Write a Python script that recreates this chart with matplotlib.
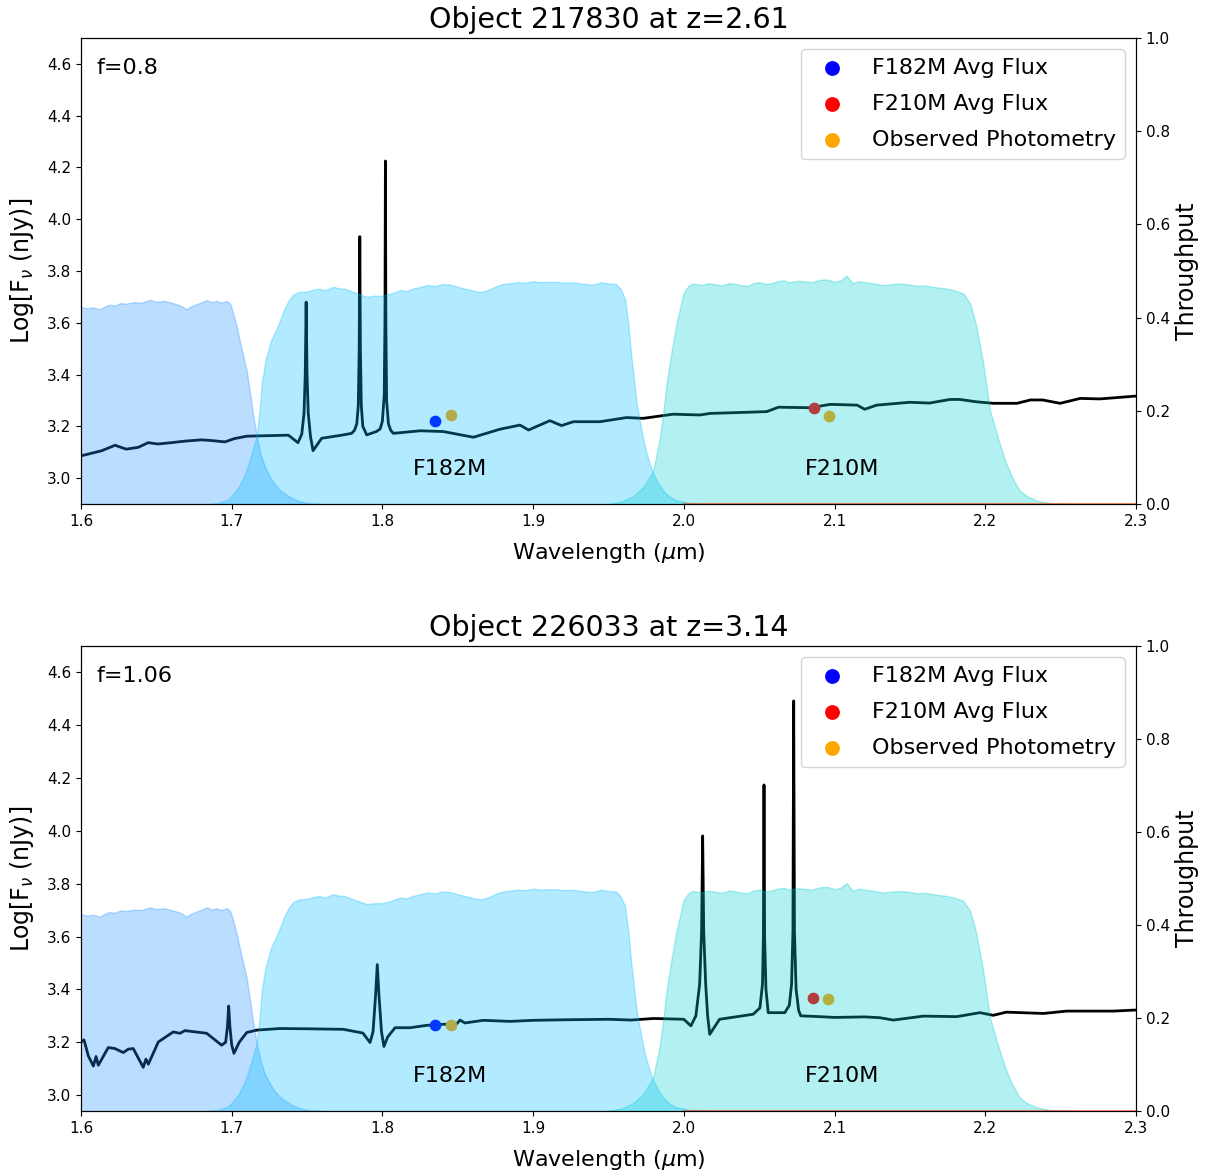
import matplotlib
matplotlib.use("Agg")
import matplotlib.pyplot as plt
from matplotlib.ticker import MultipleLocator, FormatStrFormatter

# =============================================================================
#  Data
# =============================================================================

# filter throughput curves (shared by both panels)
f162_wave = [1.55, 1.600, 1.604, 1.608, 1.6126, 1.616, 1.619, 1.6226, 1.6259, 1.630,
             1.635, 1.640, 1.6458, 1.650, 1.655, 1.659, 1.662, 1.666, 1.670, 1.673,
             1.676, 1.680, 1.6834, 1.687, 1.690, 1.693, 1.6967, 1.699, 1.701, 1.703,
             1.705, 1.7075, 1.710, 1.7125, 1.7145, 1.7166, 1.719, 1.722, 1.7255, 1.7287,
             1.733, 1.7398, 1.745, 1.751, 1.760]
f162_tput = [0.42, 0.423, 0.420, 0.422, 0.418, 0.424, 0.428, 0.426, 0.431, 0.430,
             0.433, 0.432, 0.438, 0.434, 0.436, 0.433, 0.430, 0.426, 0.418, 0.424,
             0.428, 0.433, 0.438, 0.433, 0.436, 0.432, 0.436, 0.430, 0.409, 0.385,
             0.355, 0.32, 0.285, 0.23, 0.185, 0.146, 0.11, 0.08, 0.058, 0.042,
             0.027, 0.013, 0.006, 0.002, 0.0]

f182_wave = [1.685, 1.691, 1.698, 1.7044, 1.709, 1.713, 1.7166, 1.7185, 1.720, 1.7225,
             1.726, 1.731, 1.7345, 1.7375, 1.7409, 1.745, 1.750, 1.754, 1.758, 1.762,
             1.7674, 1.771, 1.775, 1.780, 1.785, 1.7896, 1.795, 1.800, 1.806, 1.8117,
             1.816, 1.820, 1.825, 1.830, 1.835, 1.840, 1.845, 1.850, 1.855, 1.860,
             1.865, 1.869, 1.872, 1.876, 1.880, 1.885, 1.890, 1.895, 1.900, 1.905,
             1.910, 1.915, 1.920, 1.925, 1.930, 1.935, 1.940, 1.945, 1.950, 1.955,
             1.958, 1.961, 1.963, 1.9654, 1.9687, 1.9715, 1.974, 1.977, 1.9797, 1.983,
             1.986, 1.990, 1.995, 2.004, 2.015]
f182_tput = [0.0, 0.002, 0.010, 0.035, 0.065, 0.105, 0.146, 0.20, 0.26, 0.31,
             0.35, 0.385, 0.415, 0.435, 0.450, 0.455, 0.456, 0.460, 0.462, 0.459,
             0.466, 0.463, 0.462, 0.456, 0.450, 0.445, 0.447, 0.447, 0.452, 0.459,
             0.457, 0.462, 0.466, 0.470, 0.468, 0.472, 0.471, 0.466, 0.462, 0.458,
             0.455, 0.458, 0.462, 0.468, 0.472, 0.474, 0.476, 0.475, 0.478, 0.476,
             0.477, 0.477, 0.475, 0.476, 0.474, 0.472, 0.471, 0.476, 0.473, 0.472,
             0.462, 0.44, 0.39, 0.31, 0.216, 0.165, 0.125, 0.09, 0.066, 0.045,
             0.03, 0.017, 0.008, 0.002, 0.0]

f210_wave = [1.95, 1.958, 1.966, 1.973, 1.9797, 1.984, 1.9865, 1.9886, 1.992, 1.995,
             1.9975, 1.9997, 2.003, 2.006, 2.012, 2.016, 2.02, 2.025, 2.030, 2.033,
             2.038, 2.042, 2.046, 2.05, 2.054, 2.058, 2.062, 2.066, 2.070, 2.075,
             2.08, 2.085, 2.090, 2.095, 2.100, 2.104, 2.108, 2.112, 2.116, 2.12,
             2.125, 2.132, 2.138, 2.143, 2.150, 2.155, 2.160, 2.1655, 2.170, 2.175,
             2.180, 2.1855, 2.19, 2.1935, 2.1965, 2.1987, 2.2032, 2.2086, 2.213, 2.2175,
             2.2225, 2.2275, 2.235, 2.243, 2.26]
f210_tput = [0.0, 0.005, 0.016, 0.036, 0.072, 0.14, 0.20, 0.26, 0.33, 0.385,
             0.42, 0.452, 0.468, 0.473, 0.470, 0.474, 0.472, 0.469, 0.474, 0.473,
             0.470, 0.468, 0.474, 0.476, 0.472, 0.474, 0.478, 0.48, 0.476, 0.479,
             0.478, 0.476, 0.481, 0.482, 0.477, 0.480, 0.49, 0.474, 0.478, 0.476,
             0.474, 0.470, 0.472, 0.473, 0.471, 0.468, 0.469, 0.466, 0.464, 0.462,
             0.458, 0.452, 0.43, 0.39, 0.34, 0.30, 0.20, 0.14, 0.095, 0.06,
             0.03, 0.017, 0.007, 0.002, 0.0]

f250_wave = [2.0, 2.3]
f250_tput = [0.0, 0.0]

# panel 1: object 217830
top_wave = [1.600, 1.6138, 1.6226, 1.630, 1.638, 1.6446, 1.651, 1.660, 1.669, 1.680,
            1.687, 1.6955, 1.702, 1.710, 1.7165, 1.7376, 1.744, 1.7465, 1.748, 1.7488,
            1.7494, 1.750, 1.7508, 1.7523, 1.754, 1.7597, 1.773, 1.7796, 1.7815, 1.783,
            1.784, 1.7846, 1.785, 1.7854, 1.786, 1.787, 1.7896, 1.796, 1.7985, 1.800,
            1.8012, 1.8017, 1.802, 1.8023, 1.8028, 1.804, 1.8055, 1.8073, 1.825, 1.8404,
            1.8604, 1.878, 1.8913, 1.897, 1.9111, 1.9189, 1.9267, 1.9444, 1.962, 1.973,
            1.993, 2.0107, 2.0174, 2.0395, 2.055, 2.0628, 2.084, 2.0972, 2.115, 2.120,
            2.128, 2.150, 2.163, 2.1766, 2.183, 2.194, 2.2053, 2.221, 2.23, 2.238,
            2.2497, 2.263, 2.276, 2.300]
top_flux = [3.086, 3.106, 3.127, 3.112, 3.119, 3.137, 3.132, 3.137, 3.143, 3.148,
            3.145, 3.140, 3.153, 3.162, 3.163, 3.166, 3.137, 3.17, 3.25, 3.40,
            3.68, 3.40, 3.25, 3.16, 3.106, 3.154, 3.166, 3.173, 3.185, 3.21,
            3.28, 3.50, 3.933, 3.50, 3.28, 3.20, 3.167, 3.18, 3.19, 3.22,
            3.32, 3.60, 4.225, 3.60, 3.30, 3.21, 3.185, 3.173, 3.183, 3.180,
            3.158, 3.189, 3.205, 3.186, 3.222, 3.203, 3.218, 3.218, 3.234, 3.231,
            3.247, 3.244, 3.250, 3.254, 3.257, 3.274, 3.272, 3.285, 3.282, 3.266,
            3.282, 3.293, 3.290, 3.304, 3.304, 3.295, 3.289, 3.289, 3.302, 3.302,
            3.289, 3.308, 3.306, 3.317]
top_f182_avg = (1.835, 3.221)
top_f210_avg = (2.0864, 3.271)
top_obs_wave = [1.8455, 2.0963]
top_obs_flux = [3.244, 3.240]

# panel 2: object 226033
bot_wave = [1.600, 1.602, 1.6049, 1.6082, 1.610, 1.6115, 1.6181, 1.6226, 1.6281, 1.6314,
            1.6347, 1.6413, 1.6431, 1.6447, 1.6513, 1.6612, 1.6657, 1.669, 1.6834, 1.6933,
            1.696, 1.6972, 1.698, 1.6988, 1.700, 1.7015, 1.705, 1.710, 1.7166, 1.732,
            1.750, 1.774, 1.787, 1.7918, 1.7938, 1.7955, 1.7966, 1.7977, 1.7994, 1.801,
            1.8035, 1.8084, 1.8183, 1.8294, 1.840, 1.849, 1.8515, 1.8548, 1.867, 1.8847,
            1.900, 1.920, 1.950, 1.965, 1.980, 2.000, 2.0047, 2.008, 2.0105, 2.0118,
            2.0125, 2.0132, 2.0145, 2.0158, 2.0172, 2.0237, 2.046, 2.0505, 2.0522, 2.0528,
            2.0532, 2.0536, 2.0545, 2.056, 2.067, 2.070, 2.0715, 2.0724, 2.0729, 2.0734,
            2.0745, 2.0762, 2.0776, 2.090, 2.100, 2.120, 2.130, 2.139, 2.159, 2.181,
            2.1965, 2.2053, 2.214, 2.2387, 2.254, 2.285, 2.300]
bot_flux = [3.201, 3.209, 3.148, 3.110, 3.146, 3.113, 3.180, 3.176, 3.161, 3.174,
            3.176, 3.105, 3.136, 3.117, 3.201, 3.239, 3.234, 3.244, 3.234, 3.189,
            3.20, 3.26, 3.337, 3.26, 3.19, 3.158, 3.20, 3.237, 3.246, 3.252,
            3.251, 3.249, 3.235, 3.199, 3.24, 3.38, 3.494, 3.38, 3.24, 3.184,
            3.22, 3.255, 3.255, 3.264, 3.268, 3.268, 3.284, 3.273, 3.283, 3.279,
            3.283, 3.285, 3.287, 3.284, 3.290, 3.287, 3.262, 3.30, 3.42, 3.62,
            3.981, 3.62, 3.42, 3.30, 3.23, 3.287, 3.306, 3.33, 3.42, 3.60,
            4.174, 3.60, 3.40, 3.312, 3.312, 3.34, 3.42, 3.62, 4.492, 3.62,
            3.40, 3.32, 3.300, 3.297, 3.294, 3.296, 3.293, 3.284, 3.299, 3.297,
            3.312, 3.302, 3.314, 3.309, 3.318, 3.318, 3.322]
bot_f182_avg = (1.835, 3.264)
bot_f210_avg = (2.086, 3.369)
bot_obs_wave = [1.8453, 2.0955]
bot_obs_flux = [3.264, 3.365]

panels = [
    dict(title="Object 217830 at z=2.61", f="f=0.8", wave=top_wave, flux=top_flux,
         f182=top_f182_avg, f210=top_f210_avg, obs_w=top_obs_wave, obs_f=top_obs_flux,
         ylim=(2.9, 4.7), rect=[0.0672, 0.5703, 0.8755, 0.3973]),
    dict(title="Object 226033 at z=3.14", f="f=1.06", wave=bot_wave, flux=bot_flux,
         f182=bot_f182_avg, f210=bot_f210_avg, obs_w=bot_obs_wave, obs_f=bot_obs_flux,
         ylim=(2.94, 4.7), rect=[0.0672, 0.0529, 0.8755, 0.3964]),
]

filters = [
    (f162_wave, f162_tput, "dodgerblue"),
    (f182_wave, f182_tput, "deepskyblue"),
    (f210_wave, f210_tput, "darkturquoise"),
]

# =============================================================================
#  Plot
# =============================================================================
plt.rcParams["font.size"] = 11

fig = plt.figure(figsize=(12.05, 11.73), dpi=100)

for p in panels:
    ax = fig.add_axes(p["rect"])
    ax.plot(p["wave"], p["flux"], color="k", linewidth=2)
    ax.scatter([p["f182"][0]], [p["f182"][1]], color="blue", s=55, zorder=3,
               label="F182M Avg Flux")
    ax.scatter([p["f210"][0]], [p["f210"][1]], color="red", s=55, zorder=3,
               label="F210M Avg Flux")
    ax.scatter(p["obs_w"], p["obs_f"], color="orange", s=55, zorder=3,
               label="Observed Photometry")
    ax.set_xlim(1.6, 2.3)
    ax.set_ylim(*p["ylim"])
    ax.yaxis.set_major_locator(MultipleLocator(0.2))
    ax.yaxis.set_major_formatter(FormatStrFormatter("%.1f"))
    ax.set_xlabel(r"Wavelength ($\mu$m)", fontsize=16, labelpad=9)
    ax.set_ylabel(r"Log[F$_\nu$ (nJy)]", fontsize=17, labelpad=8)
    ax.set_title(p["title"], fontsize=20.5, pad=7)
    ax.text(0.015, 0.935, p["f"], transform=ax.transAxes, fontsize=16,
            ha="left", va="center")
    ax.legend(loc="upper right", fontsize=16, markerscale=1.3, labelspacing=0.72)

    ax2 = ax.twinx()
    for w, t, c in filters:
        ax2.fill_between(w, t, color=c, alpha=0.3)
    ax2.plot(f250_wave, f250_tput, color="orangered", alpha=0.6, linewidth=1.5)
    ax2.set_ylim(0, 1)
    ax2.set_ylabel("Throughput", fontsize=17)
    ax2.text(1.845, 0.075, "F182M", fontsize=16, ha="center", va="center")
    ax2.text(2.105, 0.075, "F210M", fontsize=16, ha="center", va="center")

fig.savefig("out.png", dpi=100)
